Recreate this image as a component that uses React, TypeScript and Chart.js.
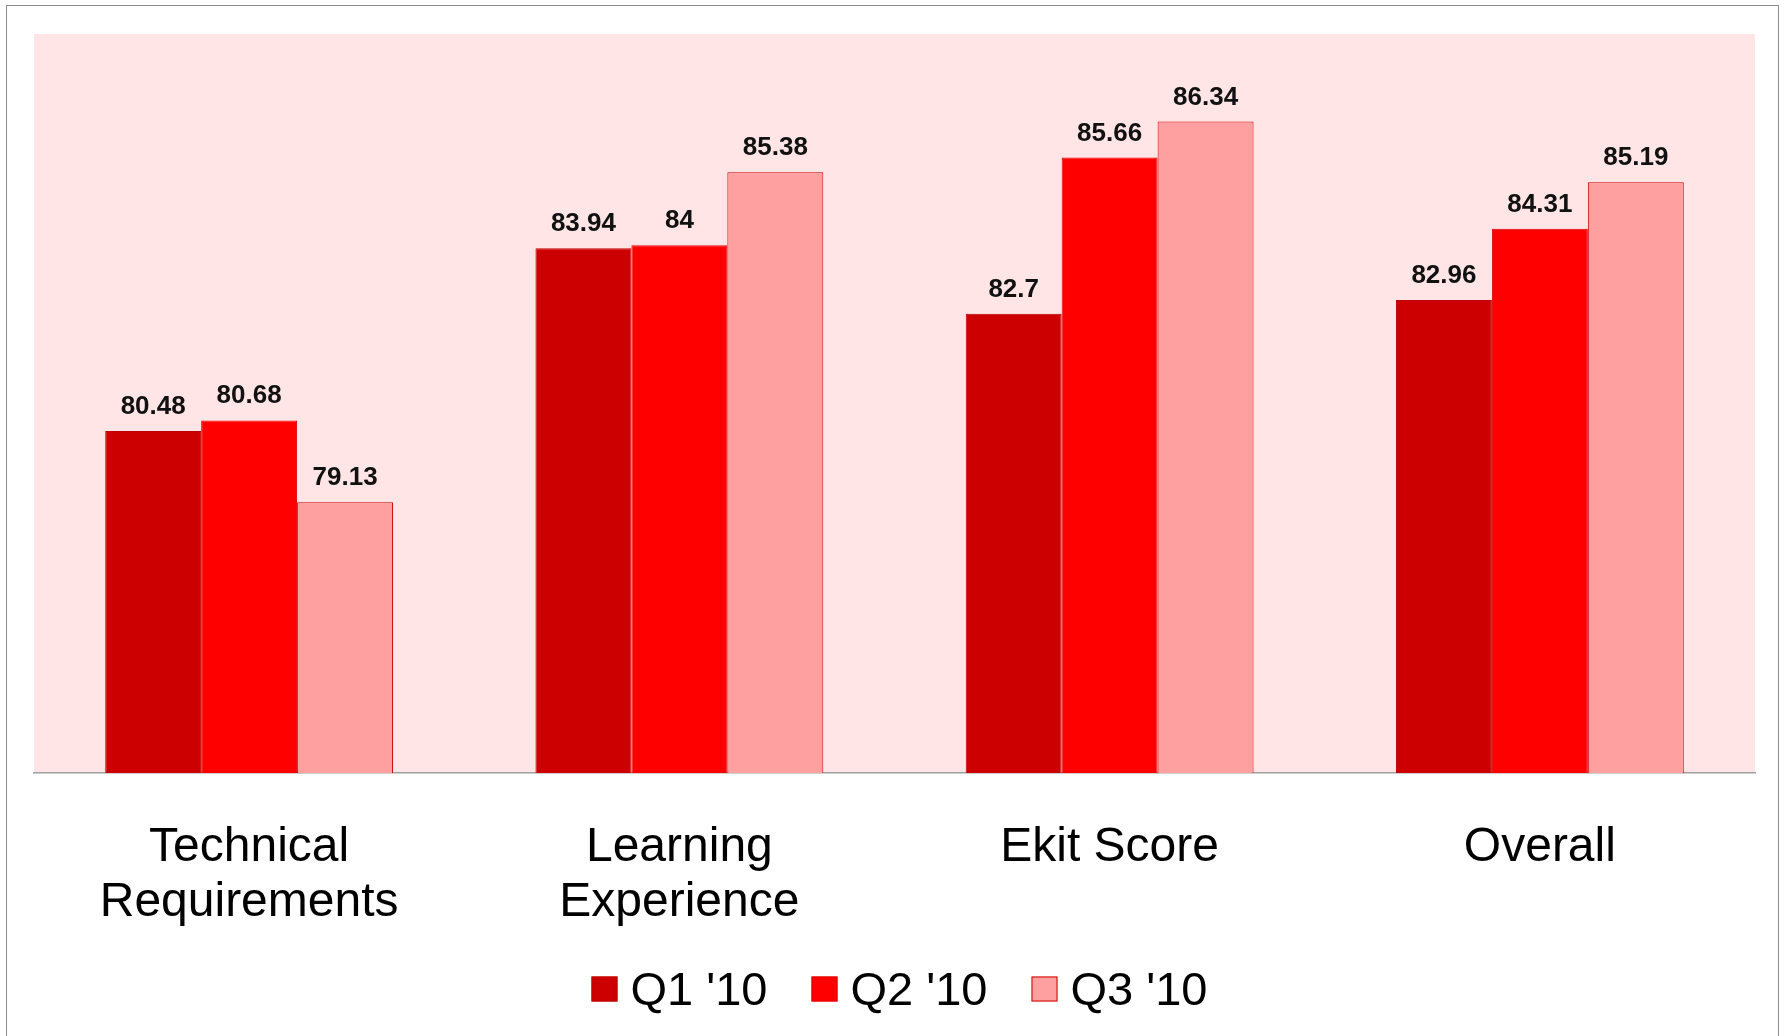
import React, { useEffect, useRef } from 'react';
import { Chart, registerables } from 'chart.js';

Chart.register(...registerables);

const categories: string[][] = [
  ['Technical', 'Requirements'],
  ['Learning', 'Experience'],
  ['Ekit Score'],
  ['Overall'],
];
const seriesNames = ["Q1 '10", "Q2 '10", "Q3 '10"];
const q1Values = [80.48, 83.94, 82.7, 82.96];
const q2Values = [80.68, 84, 85.66, 84.31];
const q3Values = [79.13, 85.38, 86.34, 85.19];
const yMin = 74;
const yMax = 88;

const FONT = "'Liberation Sans', Arial, sans-serif";
const fillColors = ['#CC0000', '#FF0000', '#FFA0A0'];
const borderColors = ['#C00000', '#E00000', '#D00000'];

const plotBackground = {
  id: 'plotBackground',
  beforeDraw(chart: any) {
    const { ctx, chartArea } = chart;
    ctx.save();
    ctx.fillStyle = '#FFE5E5';
    ctx.fillRect(chartArea.left, chartArea.top, chartArea.right - chartArea.left, chartArea.bottom - chartArea.top);
    ctx.restore();
  },
};

const valueLabels = {
  id: 'valueLabels',
  afterDatasetsDraw(chart: any) {
    const { ctx } = chart;
    ctx.save();
    ctx.font = `bold 26px ${FONT}`;
    ctx.fillStyle = '#111111';
    ctx.textAlign = 'center';
    ctx.textBaseline = 'alphabetic';
    chart.data.datasets.forEach((ds: any, i: number) => {
      const meta = chart.getDatasetMeta(i);
      meta.data.forEach((bar: any, j: number) => {
        ctx.fillText(String(ds.data[j]), bar.x, bar.y - 17);
      });
    });
    ctx.restore();
  },
};

const customLegend = {
  id: 'customLegend',
  afterDraw(chart: any) {
    const { ctx, chartArea } = chart;
    const box = 26;
    const boxH = 25;
    const gap = 13;
    const spacing = 44;
    const centerY = 989;
    ctx.save();
    ctx.font = `47px ${FONT}`;
    const items = chart.data.datasets.map((ds: any) => ({
      label: ds.label,
      fill: ds.backgroundColor,
      stroke: ds.borderColor,
      w: ctx.measureText(ds.label).width,
    }));
    const total = items.reduce((s: number, it: any) => s + box + gap + it.w, 0) + spacing * (items.length - 1);
    let x = (chartArea.left + chartArea.right) / 2 + 5 - total / 2;
    ctx.textBaseline = 'alphabetic';
    ctx.textAlign = 'left';
    items.forEach((it: any) => {
      ctx.fillStyle = it.fill;
      ctx.fillRect(x, centerY - boxH / 2, box, boxH);
      ctx.strokeStyle = it.stroke;
      ctx.lineWidth = 1;
      ctx.strokeRect(x + 0.5, centerY - boxH / 2 + 0.5, box - 1, boxH - 1);
      ctx.fillStyle = '#000000';
      ctx.fillText(it.label, x + box + gap, centerY + 16);
      x += box + gap + it.w + spacing;
    });
    ctx.restore();
  },
};

export default function App() {
  const canvasRef = useRef<HTMLCanvasElement | null>(null);

  useEffect(() => {
    document.documentElement.style.overflow = 'hidden';
    document.body.style.margin = '0';
    document.body.style.overflow = 'hidden';
    const canvas = canvasRef.current;
    if (!canvas) return;
    const seriesValues = [q1Values, q2Values, q3Values];
    const chart = new Chart(canvas, {
      type: 'bar',
      data: {
        labels: categories,
        datasets: seriesNames.map((name, i) => ({
          label: name,
          data: seriesValues[i],
          backgroundColor: fillColors[i],
          borderColor: borderColors[i],
          borderWidth: 1,
          categoryPercentage: 0.669,
          barPercentage: 1,
        })),
      },
      options: {
        responsive: false,
        animation: false,
        devicePixelRatio: 1,
        layout: { padding: { top: 34, left: 34, right: 34, bottom: 59 } },
        plugins: {
          legend: { display: false },
          tooltip: { enabled: false },
        },
        scales: {
          x: {
            grid: { display: false, drawTicks: false },
            border: { display: true, color: '#A0A0A0', width: 1.5 },
            ticks: {
              color: '#000000',
              padding: 47,
              maxRotation: 0,
              autoSkip: false,
              font: { family: FONT, size: 48, lineHeight: 55 / 48 },
            },
          },
          y: {
            display: false,
            min: yMin,
            max: yMax,
          },
        },
      },
      plugins: [plotBackground, valueLabels, customLegend],
    } as any);
    return () => chart.destroy();
  }, []);

  return (
    <div style={{ position: 'relative', width: 1789, height: 1036, overflow: 'hidden', background: '#FFFFFF' }}>
      <div
        style={{
          position: 'absolute',
          left: 6,
          top: 5,
          width: 1773,
          height: 1040,
          borderLeft: '1.5px solid #8C8C8C',
          borderTop: '1.5px solid #8C8C8C',
          borderRight: '1.5px solid #8C8C8C',
          boxSizing: 'border-box',
        }}
      />
      <canvas
        ref={canvasRef}
        width={1789}
        height={1036}
        style={{ position: 'absolute', left: 0, top: 0, width: 1789, height: 1036 }}
      />
    </div>
  );
}
